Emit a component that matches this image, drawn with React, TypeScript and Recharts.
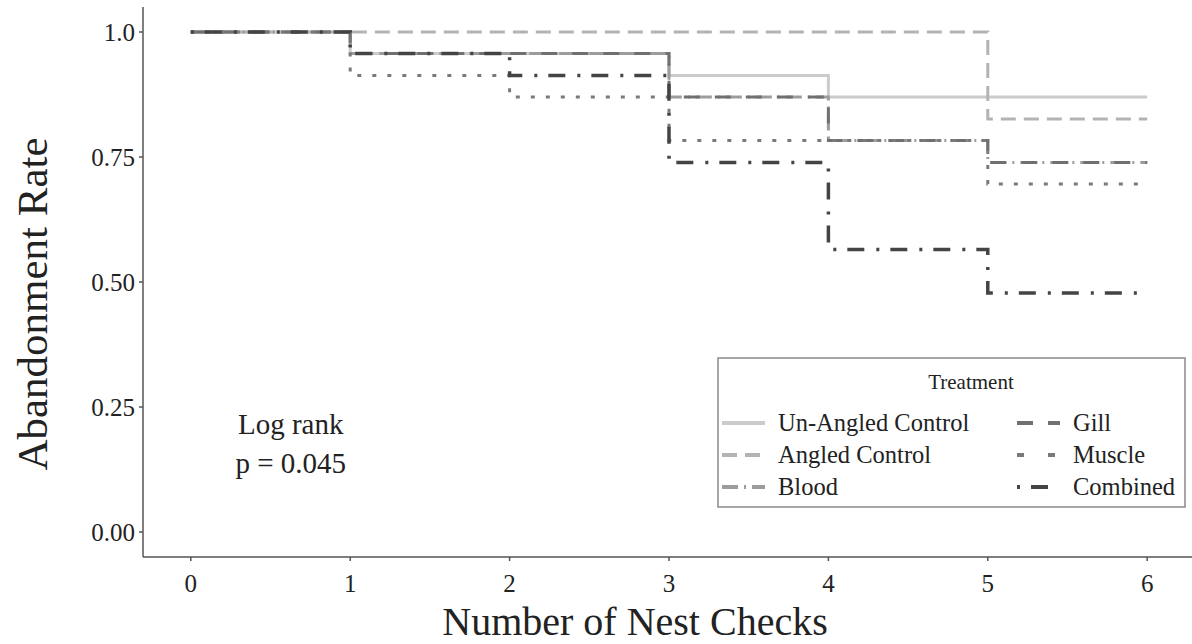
import { LineChart, Line, XAxis, YAxis, Legend, ReferenceDot } from "recharts";

const checks = [0, 1, 2, 3, 4, 5, 6];
const unAngledControl = [1, 0.957, 0.957, 0.913, 0.87, 0.87, 0.87];
const angledControl = [1, 1, 1, 1, 1, 0.826, 0.826];
const blood = [1, 0.957, 0.957, 0.87, 0.783, 0.739, 0.739];
const gill = [1, 0.957, 0.957, 0.87, 0.783, 0.739, 0.739];
const muscle = [1, 0.913, 0.87, 0.783, 0.783, 0.696, 0.696];
const combined = [1, 0.957, 0.913, 0.739, 0.565, 0.478, 0.478];

const xTicks = [0, 1, 2, 3, 4, 5, 6];
const yTicks = [0, 0.25, 0.5, 0.75, 1];

const FONT = '"Liberation Serif", "Times New Roman", serif';

const series = [
  { key: "unangled", name: "Un-Angled Control", color: "#cbcbcb", dash: undefined, width: 3 },
  { key: "angled", name: "Angled Control", color: "#b3b3b3", dash: "15 8", width: 3 },
  { key: "blood", name: "Blood", color: "#9c9c9c", dash: "16 6 2 6", width: 3 },
  { key: "gill", name: "Gill", color: "#707070", dash: "16 15", width: 3 },
  { key: "muscle", name: "Muscle", color: "#7a7a7a", dash: "4 11", width: 3 },
  { key: "combined", name: "Combined", color: "#444444", dash: "3 11 17 12", width: 3.5 },
];

const data = checks.map((t, i) => ({
  t,
  unangled: unAngledControl[i],
  angled: angledControl[i],
  blood: blood[i],
  gill: gill[i],
  muscle: muscle[i],
  combined: combined[i],
}));

// legend box, two columns like the ggplot key
function TreatmentLegend() {
  const col1 = series.slice(0, 3);
  const col2 = series.slice(3);
  const rowY = [66, 98, 130];
  return (
    <svg width={470} height={152} style={{ display: "block" }}>
      <rect x={1} y={1} width={467} height={149} fill="#fff" stroke="#8a8a8a" strokeWidth={1.5} />
      <text x={254} y={32} textAnchor="middle" fontFamily={FONT} fontSize={21} fill="#222">
        Treatment
      </text>
      {[col1, col2].map((col, c) =>
        col.map((s, r) => {
          const x0 = c === 0 ? 5 : 300;
          return (
            <g key={s.key}>
              <line
                x1={x0}
                x2={x0 + 43}
                y1={rowY[r]}
                y2={rowY[r]}
                stroke={s.color}
                strokeWidth={4}
                strokeDasharray={s.key === "muscle" ? "7 24" : s.dash}
              />
              <text x={x0 + 56} y={rowY[r] + 8} fontFamily={FONT} fontSize={24.5} fill="#222">
                {s.name}
              </text>
            </g>
          );
        })
      )}
    </svg>
  );
}

export default function App() {
  return (
    <div style={{ position: "absolute", left: 0, top: 0, width: 1192, height: 644, overflow: "hidden", background: "#fff" }}>
      <LineChart width={1200} height={644} data={data} margin={{ top: 7, right: 5, bottom: 0, left: 0 }}>
        <XAxis
          dataKey="t"
          type="number"
          domain={[-0.3, 6.3]}
          ticks={xTicks}
          allowDataOverflow
          height={87}
          stroke="#555"
          strokeWidth={1.5}
          tickSize={4}
          tickMargin={13}
          tick={{ fontFamily: FONT, fontSize: 25, fill: "#222" }}
          label={{
            content: () => (
              <text x={635} y={635} textAnchor="middle" fontFamily={FONT} fontSize={40} fill="#222">
                Number of Nest Checks
              </text>
            ),
          }}
        />
        <YAxis
          type="number"
          domain={[-0.05, 1.05]}
          ticks={yTicks}
          allowDataOverflow
          width={143}
          stroke="#555"
          strokeWidth={1.5}
          tickSize={4}
          tickMargin={4}
          tickFormatter={(v: number) => (v === 1 ? "1.0" : v.toFixed(2))}
          tick={{ fontFamily: FONT, fontSize: 25, fill: "#222" }}
          label={{
            content: () => (
              <text
                x={47}
                y={304}
                transform="rotate(-90, 47, 304)"
                textAnchor="middle"
                fontFamily={FONT}
                fontSize={43}
                fill="#222"
              >
                Abandonment Rate
              </text>
            ),
          }}
        />
        {series.map((s) => (
          <Line
            key={s.key}
            type="stepAfter"
            dataKey={s.key}
            name={s.name}
            stroke={s.color}
            strokeWidth={s.width}
            strokeDasharray={s.dash}
            dot={false}
            activeDot={false}
            isAnimationActive={false}
          />
        ))}
        <ReferenceDot
          x={0.627}
          y={0.196}
          r={0}
          fill="none"
          stroke="none"
          ifOverflow="visible"
          label={{
            content: (props: any) => {
              const vb = props.viewBox || {};
              const cx = vb.x + (vb.width || 0) / 2;
              const cy = vb.y + (vb.height || 0) / 2;
              return (
                <g fontFamily={FONT} fontSize={29} fill="#222">
                  <text x={cx} y={cy} textAnchor="middle">Log rank</text>
                  <text x={cx} y={cy + 39} textAnchor="middle">p = 0.045</text>
                </g>
              );
            },
          }}
        />
        <Legend
          layout="vertical"
          align="center"
          verticalAlign="middle"
          content={() => <TreatmentLegend />}
          wrapperStyle={{ position: "absolute", left: 717, top: 357, width: 470, height: 152 }}
        />
      </LineChart>
    </div>
  );
}
